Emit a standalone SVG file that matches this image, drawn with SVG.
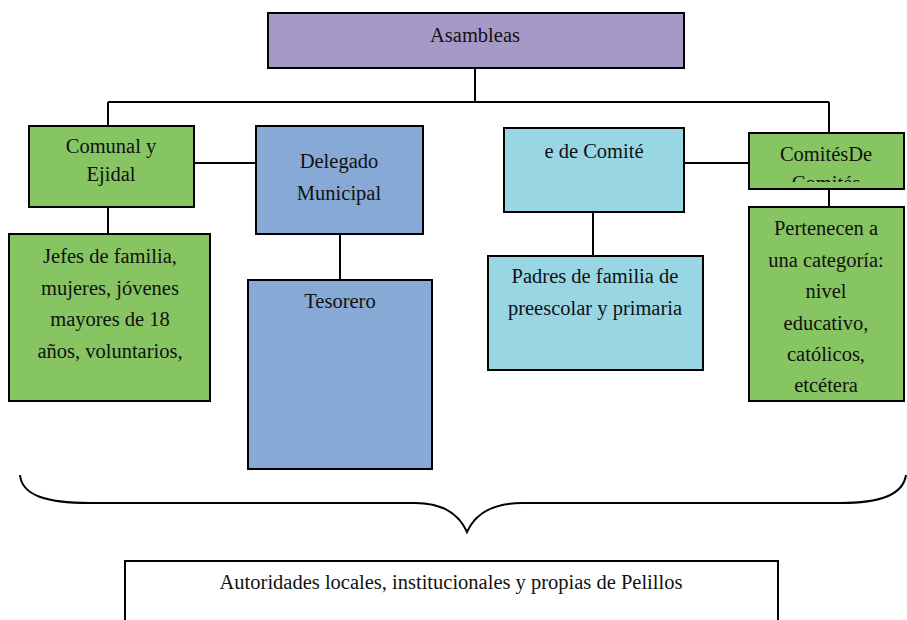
<svg xmlns="http://www.w3.org/2000/svg" width="907" height="620" viewBox="0 0 907 620">
<style>
.box{stroke:#000;stroke-width:2}
.green{fill:#86C562}
.blue{fill:#86AAD5}
.cyan{fill:#98D6E4}
.purple{fill:#A699C7}
.t{font-family:"Liberation Serif","Times New Roman",serif;font-size:20.5px;fill:#111;text-anchor:middle}
.c{stroke:#000;stroke-width:2;fill:none}
</style>
<defs>
<clipPath id="clipComites"><rect x="749" y="133" width="155" height="49"/></clipPath>
</defs>
<rect width="907" height="620" fill="#fff"/>
<g id="connectors">
<path class="c" d="M475 68V102M108 102H829M108 102V126M829 102V133"/>
<path class="c" d="M194 163H256M340 234V280M108 207V234"/>
<path class="c" d="M684 163H749M593 212V256M829 189V207"/>
<path class="c" stroke-width="1.5" d="M20 475C22 495 45 503 90 503H415C440 503 458 512 467 532C476 512 494 503 522 503H840C880 503 903 495 906 475"/>
</g>
<g id="asambleas"><rect class="box purple" x="268" y="13" width="416" height="55"/><text class="t" x="475" y="42">Asambleas</text></g>
<g id="comunal"><rect class="box green" x="29" y="126" width="165" height="81"/><text class="t" x="111" y="153">Comunal y</text><text class="t" x="111" y="181">Ejidal</text></g>
<g id="delegado"><rect class="box blue" x="256" y="126" width="167" height="108"/><text class="t" x="339" y="168">Delegado</text><text class="t" x="339" y="200">Municipal</text></g>
<g id="jefes"><rect class="box green" x="9" y="234" width="201" height="167"/><text class="t" x="110" y="263">Jefes de familia,</text><text class="t" x="110" y="295">mujeres, jóvenes</text><text class="t" x="110" y="326">mayores de 18</text><text class="t" x="110" y="358">años, voluntarios,</text></g>
<g id="tesorero"><rect class="box blue" x="248" y="280" width="184" height="189"/><text class="t" x="340" y="308">Tesorero</text></g>
<g id="comite"><rect class="box cyan" x="504" y="128" width="180" height="84"/><text class="t" x="594" y="158">e de Comité</text></g>
<g id="padres"><rect class="box cyan" x="488" y="256" width="215" height="114"/><text class="t" x="595" y="283">Padres de familia de</text><text class="t" x="595" y="315">preescolar y primaria</text></g>
<g id="comites"><rect class="box green" x="749" y="133" width="155" height="56"/><g clip-path="url(#clipComites)"><text class="t" x="826" y="161">ComitésDe</text><text class="t" x="826" y="190">Comités</text></g></g>
<g id="pertenecen"><rect class="box green" x="749" y="207" width="155" height="194"/><text class="t" x="826" y="235">Pertenecen a</text><text class="t" x="826" y="267">una categoría:</text><text class="t" x="826" y="298">nivel</text><text class="t" x="826" y="330">educativo,</text><text class="t" x="826" y="361">católicos,</text><text class="t" x="826" y="392">etcétera</text></g>
<g id="autoridades"><path class="c" d="M125 625V561H778V625"/><text class="t" x="451" y="589">Autoridades locales, institucionales y propias de Pelillos</text></g>
</svg>
